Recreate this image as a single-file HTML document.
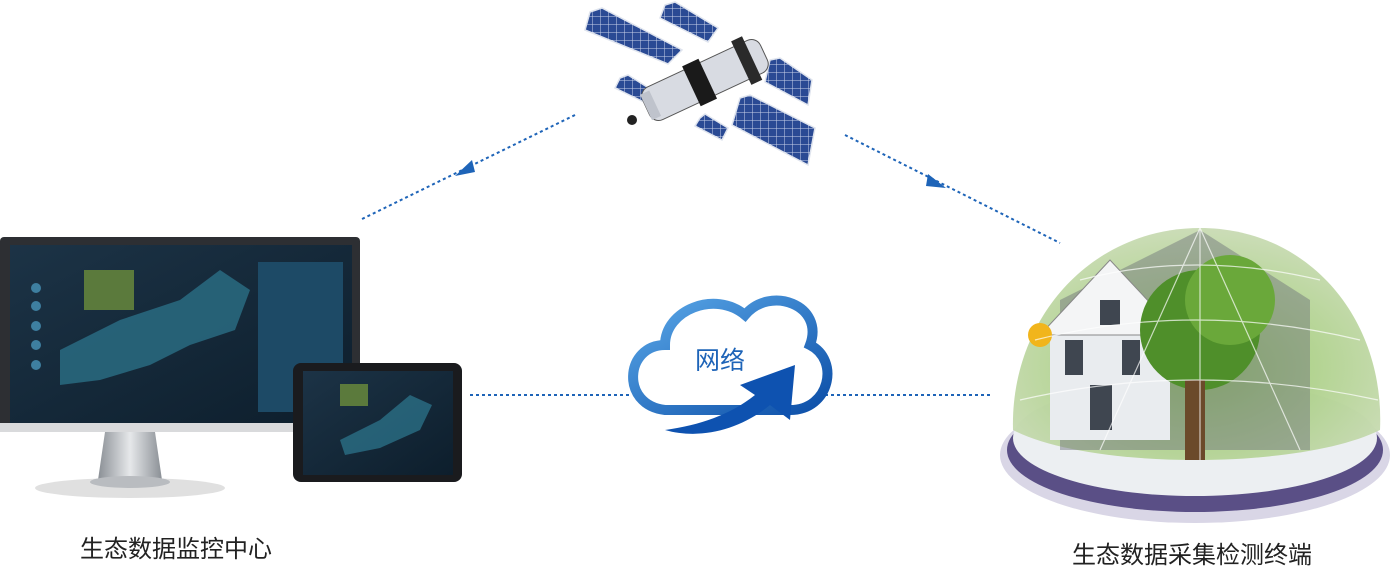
<!DOCTYPE html>
<html><head><meta charset="utf-8"><style>
html,body{margin:0;padding:0;background:#fff;}
svg{display:block;}
text{font-family:"Liberation Sans","Noto Sans CJK SC",sans-serif;}
</style></head><body>
<svg width="1399" height="564" viewBox="0 0 1399 564" xmlns="http://www.w3.org/2000/svg">
<defs>
<linearGradient id="scr" x1="0" y1="0" x2="1" y2="1"><stop offset="0" stop-color="#1c3346"/><stop offset="1" stop-color="#0d1e2c"/></linearGradient>
<linearGradient id="stand" x1="0" y1="0" x2="1" y2="0"><stop offset="0" stop-color="#8a8f95"/><stop offset=".5" stop-color="#e6e8ea"/><stop offset="1" stop-color="#8a8f95"/></linearGradient>
<linearGradient id="cloud" x1="0" y1="0" x2="1" y2="1"><stop offset="0" stop-color="#5aa8e8"/><stop offset="1" stop-color="#0d4fa8"/></linearGradient>
<radialGradient id="dome" cx=".5" cy=".6" r=".6"><stop offset="0" stop-color="#8cc456"/><stop offset="1" stop-color="#c6d9b0"/></radialGradient>
<pattern id="grid" width="8" height="8" patternUnits="userSpaceOnUse"><rect width="8" height="8" fill="#2a4a94"/><path d="M0 0H8M0 0V8" stroke="#c9d3ea" stroke-width="1"/></pattern>
</defs>

<g stroke="#1e64b8" stroke-width="2" stroke-dasharray="3 3" fill="none">
<line x1="575" y1="115" x2="360" y2="220"/>
<line x1="845" y1="135" x2="1060" y2="243"/>
<line x1="470" y1="395" x2="630" y2="395"/>
<line x1="825" y1="395" x2="990" y2="395"/>
</g>
<polygon points="455,176 472,160 475,172" fill="#1e64b8"/>
<polygon points="946,188 928,174 926,186" fill="#1e64b8"/>

<!-- satellite -->
<g stroke="#dfe4ee" stroke-width="1.5">
<polygon points="590,12 602,8 682,50 668,64 585,30" fill="url(#grid)"/>
<polygon points="665,5 675,2 718,28 708,42 660,18" fill="url(#grid)"/>
<polygon points="620,78 628,75 655,92 648,104 615,88" fill="url(#grid)"/>
<polygon points="770,60 780,58 812,80 808,105 765,82" fill="url(#grid)"/>
<polygon points="740,98 750,95 815,128 808,165 732,125" fill="url(#grid)"/>
<polygon points="700,118 705,114 728,128 722,140 695,126" fill="url(#grid)"/>
</g>
<g transform="rotate(-25 705 80)">
<rect x="640" y="62" width="130" height="36" rx="10" fill="#d8dbe2" stroke="#555"/>
<rect x="690" y="58" width="18" height="44" fill="#1a1a1a"/>
<rect x="745" y="56" width="12" height="48" fill="#2a2a2a"/>
<rect x="640" y="66" width="10" height="28" fill="#bfc3cc"/>
</g>
<circle cx="632" cy="120" r="5" fill="#222"/>

<!-- monitor -->
<rect x="0" y="237" width="360" height="195" rx="4" fill="#2d2f33"/>
<rect x="10" y="245" width="342" height="178" fill="url(#scr)"/>
<path d="M60 350 L120 320 L180 300 L220 270 L250 290 L235 330 L190 345 L150 365 L100 380 L60 385Z" fill="#2a6f86" opacity=".8"/>
<rect x="84" y="270" width="50" height="40" fill="#5b7a3c"/>
<rect x="258" y="262" width="85" height="150" fill="#1d4a66"/>
<g fill="#3e7fa0"><circle cx="36" cy="288" r="5"/><circle cx="36" cy="306" r="5"/><circle cx="36" cy="326" r="5"/><circle cx="36" cy="345" r="5"/><circle cx="36" cy="365" r="5"/></g>
<rect x="0" y="423" width="360" height="9" fill="#d9dadc"/>
<path d="M105 432 L155 432 L162 480 L98 480Z" fill="url(#stand)"/>
<ellipse cx="130" cy="488" rx="95" ry="10" fill="#ccc" opacity=".6"/>
<ellipse cx="130" cy="482" rx="40" ry="6" fill="#b9bcc0"/>

<!-- tablet -->
<rect x="293" y="363" width="169" height="119" rx="8" fill="#1a1b1e"/>
<rect x="303" y="371" width="150" height="104" fill="url(#scr)"/>
<path d="M340 440 L380 420 L410 395 L432 405 L420 430 L380 448 L345 455Z" fill="#2a6f86" opacity=".8"/>
<rect x="340" y="384" width="28" height="22" fill="#5b7a3c"/>

<!-- cloud -->
<path d="M665 410 C620 405 625 345 665 345 C665 310 715 290 745 315 C770 285 825 305 810 345 C840 360 830 410 790 410Z" fill="#fff" stroke="url(#cloud)" stroke-width="10"/>
<path d="M665 430 C700 440 740 430 770 405 L790 420 L795 365 L740 385 L755 395 C730 415 700 425 665 430Z" fill="#0e52b0"/>
<text x="720" y="369" font-size="25" fill="#1e64b8" text-anchor="middle">网络</text>

<!-- dome house -->
<ellipse cx="1195" cy="455" rx="195" ry="68" fill="#d9d6e6"/>
<ellipse cx="1195" cy="450" rx="188" ry="62" fill="#5a4f86"/>
<ellipse cx="1195" cy="438" rx="182" ry="58" fill="#eceff2"/>
<path d="M1013 430 C1010 320 1090 228 1200 228 C1310 228 1385 320 1380 430 C1300 470 1090 470 1013 430Z" fill="url(#dome)" opacity=".9"/>
<path d="M1060 300 L1200 230 L1310 300 L1310 450 L1060 450Z" fill="#6b6f78" opacity=".45"/>
<rect x="1050" y="330" width="120" height="110" fill="#e9ecef"/>
<polygon points="1040,335 1110,260 1180,335" fill="#f4f5f6" stroke="#888"/>
<g fill="#3f4650"><rect x="1065" y="340" width="18" height="35"/><rect x="1122" y="340" width="18" height="35"/><rect x="1100" y="300" width="20" height="25"/><rect x="1090" y="385" width="22" height="45"/></g>
<circle cx="1200" cy="330" r="60" fill="#4f8f2a"/>
<circle cx="1230" cy="300" r="45" fill="#6aa83a"/>
<rect x="1185" y="380" width="20" height="80" fill="#6b4a2a"/>
<circle cx="1040" cy="335" r="12" fill="#f1b51c"/>
<g stroke="#fff" stroke-width="1.2" fill="none" opacity=".7">
<path d="M1020 400 Q1195 360 1378 400"/><path d="M1035 340 Q1195 300 1360 340"/><path d="M1080 280 Q1195 250 1320 280"/>
<path d="M1200 228 L1200 460"/><path d="M1200 228 L1100 450"/><path d="M1200 228 L1300 450"/>
</g>
</svg>
<div style="position:absolute;left:0;top:0;width:1399px;height:564px;pointer-events:none;">
<div style="position:absolute;left:80px;top:529px;font:24px 'Liberation Sans','Noto Sans CJK SC',sans-serif;color:#222;white-space:nowrap;">生态数据监控中心</div>
<div style="position:absolute;left:1072px;top:535px;font:24px 'Liberation Sans','Noto Sans CJK SC',sans-serif;color:#222;white-space:nowrap;">生态数据采集检测终端</div>
</div>
</body></html>
